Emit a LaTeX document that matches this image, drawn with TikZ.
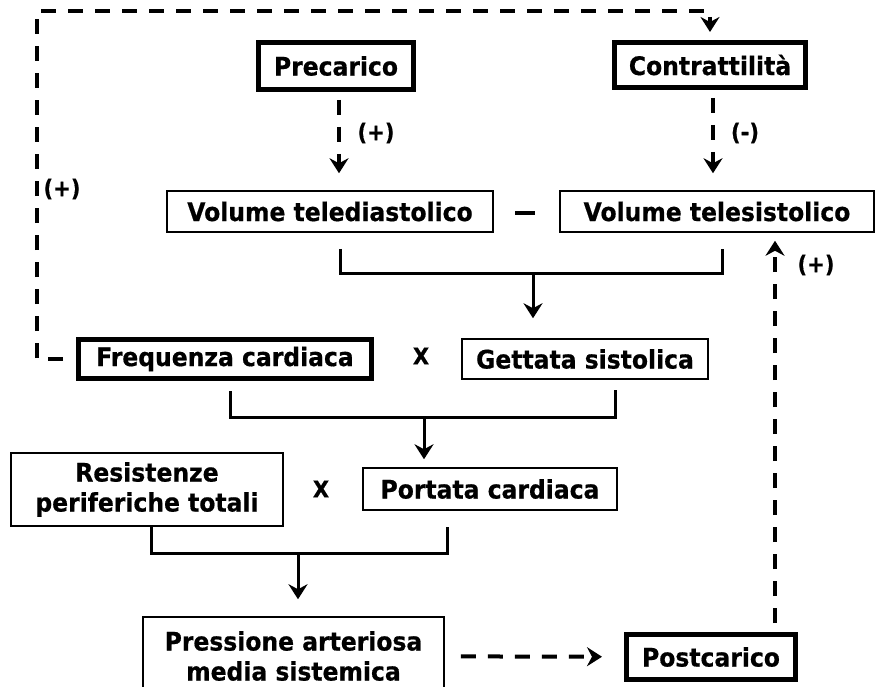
\documentclass[tikz,border=0pt]{standalone}
\usepackage{fontspec}
\setmainfont{DejaVu Sans}
\newfontfamily\boxfont{DejaVu Sans Bold}[FakeStretch=0.92, FakeBold=0.6]
\usepackage{tikz}
\usetikzlibrary{arrows.meta}
\usetikzlibrary{calc}

\begin{document}
\begin{tikzpicture}[x=1pt, y=-1pt,
    font=\boxfont\fontsize{25.5}{30}\selectfont,
    box/.style={draw, line width=1.5pt, inner sep=0pt, align=center},
    bigbox/.style={box, line width=5pt},
    sign/.style={font=\boxfont\fontsize{23}{27}\selectfont},
    flow/.style={line width=3pt},
    link/.style={line width=4pt, dash pattern=on 15pt off 12pt},
    tip/.style={-{Stealth[length=15pt, width=19pt, inset=5pt]}}] % Portata cardiaca e pressione

      \fill [white] (0,0) rectangle (880,687);
      \useasboundingbox (0,0) rectangle (880,687);

      \node [bigbox, minimum width=155, minimum height=47] (pre) at (336,66) {Precarico};
      \node [bigbox, minimum width=191, minimum height=45] (contr) at (710,65) {Contrattilità};
      \node [box, minimum width=326, minimum height=41] (ved) at (330,211.5) {Volume telediastolico};
      \node [box, minimum width=314, minimum height=41] (ves) at (717,211.5) {Volume telesistolico};
      \node (minus) at (525,213) {\rule{20pt}{4.5pt}};
      \node [bigbox, minimum width=293, minimum height=39] (fc) at (225,359) {Frequenza cardiaca};
      \node [box, minimum width=246, minimum height=40] (gs) at (585,359) {Gettata sistolica};
      \node [sign] (x1) at (421,356) {X};
      \node [box, minimum width=272, minimum height=73] (rpt) at (147,489.5) {Resistenze\\periferiche totali};
      \node [box, minimum width=254, minimum height=42] (pc) at (490,489) {Portata cardiaca};
      \node [sign] (x2) at (321,489) {X};
      \node [box, minimum width=301, minimum height=78] (pam) at (293.5,656) {Pressione arteriosa\\media sistemica};
      \node [bigbox, minimum width=169, minimum height=45] (post) at (711,657) {Postcarico};

      \node [sign] (lpre) at (376,133) {(+)};
      \node [sign] (lcontr) at (745,133) {(-)};
      \node [sign] (lfc) at (62,189) {(+)};
      \node [sign] (lpost) at (816,265) {(+)};

      \coordinate (p1) at ([xshift=3pt]pre.south);
      \coordinate (p2) at ([xshift=3pt]contr.south);
      \coordinate (p3) at ([xshift=64pt]post.north);
      \coordinate (corner) at (37,11);
      \draw [link, tip, shorten <=8pt, shorten >=17pt] (p1) -- (p1 |- ved.north);
      \draw [link, tip, shorten <=8pt, shorten >=17pt] (p2) -- (p2 |- ves.north);
      \draw [link, tip, shorten <=9pt, shorten >=8pt] (p3) -- (p3 |- ves.south);
      \draw [link, tip, shorten <=16pt, shorten >=22pt] (pam) -- (post);
      \draw [link, tip, shorten <=13pt, shorten >=8pt] (fc.west) -| (corner) -| (contr.north);

      \coordinate (b1) at (533,273);
      \coordinate (b2) at (424,417);
      \coordinate (b3) at (298,553);
      \draw [flow] ([xshift=10pt, yshift=-16pt]ved.south) |- (b1) -| ([xshift=5pt, yshift=-16pt]ves.south);
      \draw [flow, tip, shorten >=20pt] (b1) -- (b1 |- gs.north);
      \draw [flow] ([xshift=5pt, yshift=-10pt]fc.south) |- (b2) -| ([xshift=30pt, yshift=-10pt]gs.south);
      \draw [flow, tip, shorten >=8pt] (b2) -- (b2 |- pc.north);
      \draw [flow] ([xshift=4pt]rpt.south) |- (b3) -| ([xshift=-43pt, yshift=-16pt]pc.south);
      \draw [flow, tip, shorten >=17pt] (b3) -- (b3 |- pam.north);

    \end{tikzpicture}
\end{document}
